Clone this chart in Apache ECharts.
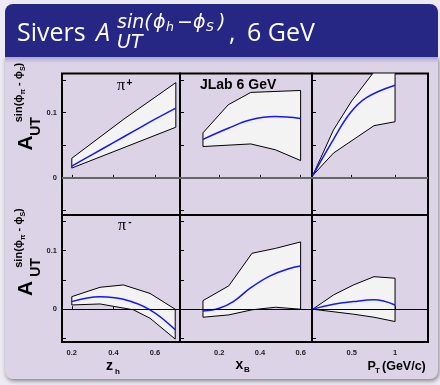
<!DOCTYPE html>
<html><head><meta charset="utf-8">
<script src="https://cdn.jsdelivr.net/npm/echarts@6/dist/echarts.min.js"></script>
<style>html,body{margin:0;padding:0;background:#eeeaf4;}#c{width:440px;height:385px;}</style>
</head><body><div id="c"></div>
<script>
// ---------- data ----------
// pi+ vs z_h
const piPlusZUpper  = [[0.2,0.030],[0.45,0.090],[0.70,0.146]];
const piPlusZLower  = [[0.2,0.015],[0.70,0.0776]];
const piPlusZCenter = [[0.2,0.018],[0.3,0.036],[0.4,0.054],[0.5,0.072],[0.6,0.090],[0.7,0.107]];
// pi+ vs x_B
const piPlusXUpper  = [[0.12,0.069],[0.244,0.112],[0.355,0.131],[0.6,0.134]];
const piPlusXLower  = [[0.12,0.048],[0.355,0.052],[0.476,0.043],[0.6,0.0265]];
const piPlusXCenter = [[0.12,0.059],[0.244,0.076],[0.355,0.089],[0.476,0.094],[0.6,0.091]];
// pi+ vs P_T
const piPlusPUpper  = [[0.05,0.0035],[0.29,0.0735],[0.5,0.118],[0.742,0.16],[1.0,0.19]];
const piPlusPLower  = [[0.05,0.0035],[0.29,0.038],[0.757,0.080],[1.0,0.086]];
const piPlusPCenter = [[0.05,0.0035],[0.29,0.059],[0.48,0.099],[0.67,0.123],[1.0,0.142]];
// pi- vs z_h
const piMinusZUpper  = [[0.2,0.0215],[0.336,0.0375],[0.448,0.0415],[0.576,0.027],[0.697,0.0]];
const piMinusZLower  = [[0.2,0.0073],[0.336,0.009],[0.496,-0.001],[0.576,-0.0154],[0.697,-0.051]];
const piMinusZCenter = [[0.2,0.013],[0.336,0.0215],[0.448,0.017],[0.576,-0.001],[0.697,-0.035]];
// pi- vs x_B
const piMinusXUpper  = [[0.12,0.0147],[0.247,0.040],[0.361,0.0956],[0.477,0.104],[0.6,0.115]];
const piMinusXLower  = [[0.12,-0.0137],[0.247,-0.0097],[0.361,-0.001],[0.477,0.0034],[0.6,0.0]];
const piMinusXCenter = [[0.12,-0.003],[0.2,0.0017],[0.269,0.013],[0.352,0.036],[0.45,0.057],[0.55,0.070],[0.6,0.074]];
// pi- vs P_T
const piMinusPUpper  = [[0.05,0.0],[0.29,0.0244],[0.52,0.0415],[0.757,0.0556],[1.0,0.053]];
const piMinusPLower  = [[0.05,0.0],[0.52,-0.0085],[0.757,-0.0137],[1.0,-0.021]];
const piMinusPCenter = [[0.05,0.0],[0.29,0.0085],[0.52,0.013],[0.757,0.016],[1.0,0.0073]];

// axes / ticks
const xRanges = [[0.153,0.72],[0.007,0.656],[0.042,1.38]];
const yRanges = [[-0.057,0.16],[-0.056,0.161]];
const xTickValues = [[0.2,0.4,0.6],[0.2,0.4,0.6],[0.5,1]];
const yTickValues = [-0.05,0,0.05,0.1,0.15];
const yLabelValues = [0,0.1];

// ---------- layout ----------
const colLeft = [62,180,312], colWidth = [118,132,116];
const rowTop = [73.5,215], rowHeight = [141.5,127];

const panels = [
  [piPlusZUpper,piPlusZLower,piPlusZCenter],
  [piPlusXUpper,piPlusXLower,piPlusXCenter],
  [piPlusPUpper,piPlusPLower,piPlusPCenter],
  [piMinusZUpper,piMinusZLower,piMinusZCenter],
  [piMinusXUpper,piMinusXLower,piMinusXCenter],
  [piMinusPUpper,piMinusPLower,piMinusPCenter]
];

const grids=[], xAxes=[], yAxes=[], series=[];
const tickFont = {fontSize:7.5, fontWeight:'bold', color:'#222', fontFamily:'Liberation Sans'};
for (let r=0;r<2;r++) for (let c=0;c<3;c++) {
  const i=r*3+c;
  grids.push({left:colLeft[c], top:rowTop[r], width:colWidth[c], height:rowHeight[r],
    show:true, borderColor:'#000', borderWidth:2, backgroundColor:'transparent'});
  xAxes.push({type:'value', gridIndex:i, min:xRanges[c][0], max:xRanges[c][1],
    axisLine:{show:false}, splitLine:{show:false},
    axisTick:{show:true, inside:true, length:3, customValues:xTickValues[c], lineStyle:{color:'#000',width:1}},
    axisLabel:Object.assign({show:r===1, customValues:xTickValues[c], margin:7, formatter:v=>String(v)}, tickFont)});
  yAxes.push({type:'value', gridIndex:i, min:yRanges[r][0], max:yRanges[r][1],
    axisLine:{show:false}, splitLine:{show:false},
    axisTick:{show:true, inside:true, length:4, customValues:yTickValues, lineStyle:{color:'#000',width:1}},
    axisLabel:Object.assign({show:c===0, customValues:yLabelValues, margin:5, formatter:v=>String(v)}, tickFont)});
  const [up,lo,ce]=panels[i];
  series.push({type:'custom', xAxisIndex:i, yAxisIndex:i, clip:true, z:2, silent:true,
    data:[up[0]],
    renderItem:(params,api)=>{
      const pts = up.map(p=>api.coord(p)).concat(lo.slice().reverse().map(p=>api.coord(p)));
      return {type:'polygon', shape:{points:pts}, style:{fill:'#f3f3f3', stroke:'#000', lineWidth:1}};
    }});
  series.push({type:'line', xAxisIndex:i, yAxisIndex:i, z:3, data:ce, smooth:0.4, showSymbol:false, silent:true,
    lineStyle:{color:'#1515ff', width:1.5},
    markLine:{silent:true, symbol:'none', label:{show:false}, animation:false,
      lineStyle:{color: r===0?'#666':'#000', width: r===0?2:1, type:'solid'}, data:[{yAxis:0}]}});
}

const white='#ffffff';
function t(x,y,text,font,extra){ return Object.assign({type:'text', x:x, y:y,
  style:Object.assign({text:text, font:font, fill:white, textVerticalAlign:'middle'}, extra||{})}); }
const supF='oblique 19px "DejaVu Sans"', subF='oblique 12.5px "DejaVu Sans"';
const graphics = [
  {type:'rect', z:-10, shape:{x:5,y:57,width:433,height:322,r:[0,0,8,8]},
   style:{fill:'#dcd3e7', shadowBlur:4, shadowColor:'rgba(0,0,0,0.45)', shadowOffsetX:1, shadowOffsetY:2}},
  {type:'rect', z:-9, shape:{x:5,y:57,width:433,height:6},
   style:{fill:new echarts.graphic.LinearGradient(0,0,0,1,[{offset:0,color:'#aaa4cf'},{offset:1,color:'#dcd3e7'}])}},
  {type:'rect', z:-8, shape:{x:5,y:4,width:433,height:53,r:[8,8,0,0]}, style:{fill:'#262685'}},
  // title
  t(17,34,'Sivers','25px "Open Sans"'),
  t(96,34,'A','italic 25px "Open Sans"'),
  t(117,23,'sin(',supF),
  t(153,23,'ϕ',supF),
  t(166,28,'h',subF),
  t(177,23,'−',supF),
  t(193,23,'ϕ',supF),
  t(206,28,'S',subF),
  t(218,23,')',supF),
  t(117,43,'UT','oblique 19px "DejaVu Sans"'),
  t(229,34,',','25px "Open Sans"'),
  t(247,34,'6 GeV','25px "Open Sans"'),
  // panel labels
  {type:'text', x:121, y:86, style:{text:'π', font:'16px "Liberation Serif"', fill:'#000', textAlign:'center', textVerticalAlign:'middle'}},
  {type:'text', x:129.5, y:83, style:{text:'+', font:'bold 10px "Liberation Sans"', fill:'#000', textAlign:'center', textVerticalAlign:'middle'}},
  {type:'text', x:122, y:226, style:{text:'π', font:'16px "Liberation Serif"', fill:'#000', textAlign:'center', textVerticalAlign:'middle'}},
  {type:'text', x:130, y:222, style:{text:'-', font:'bold 10px "Liberation Sans"', fill:'#000', textAlign:'center', textVerticalAlign:'middle'}},
  {type:'text', x:200, y:85, style:{text:'JLab 6 GeV', font:'bold 14px "Liberation Sans"', fill:'#000', textVerticalAlign:'middle'}},
  // x titles
  {type:'text', x:106, y:366.5, style:{text:'z', font:'bold 14px "Liberation Sans"', fill:'#000', textVerticalAlign:'middle'}},
  {type:'text', x:115, y:371.5, style:{text:'h', font:'bold 8px "Liberation Sans"', fill:'#000', textVerticalAlign:'middle'}},
  {type:'text', x:235.5, y:365.5, style:{text:'x', font:'bold 14px "Liberation Sans"', fill:'#000', textVerticalAlign:'middle'}},
  {type:'text', x:244, y:370, style:{text:'B', font:'bold 8px "Liberation Sans"', fill:'#000', textVerticalAlign:'middle'}},
  {type:'text', x:367.5, y:366.5, style:{text:'P', font:'bold 12.5px "Liberation Sans"', fill:'#000', textVerticalAlign:'middle'}},
  {type:'text', x:375, y:370.5, style:{text:'T', font:'bold 8px "Liberation Sans"', fill:'#000', textVerticalAlign:'middle'}},
  {type:'text', x:382, y:366.5, style:{text:'(GeV/c)', font:'bold 12.5px "Liberation Sans"', fill:'#000', textVerticalAlign:'middle'}}
];
// rotated y titles
function yTitle(yA, yUT, ySup) {
  const rot = Math.PI/2;
  graphics.push({type:'text', x:26, y:yA, rotation:rot, style:{text:'A', font:'bold 21px "Liberation Sans"', fill:'#000', textAlign:'center', textVerticalAlign:'middle'}});
  graphics.push({type:'text', x:36, y:yUT, rotation:rot, style:{text:'UT', font:'bold 14px "Liberation Sans"', fill:'#000', textAlign:'center', textVerticalAlign:'middle'}});
  graphics.push({type:'text', x:19, y:ySup, rotation:rot, style:{text:'{a|sin(ϕ}{b|π}{a| - ϕ}{b|S}{a|)}', textAlign:'center', textVerticalAlign:'middle',
    rich:{a:{font:'bold 11px "Liberation Sans"', fill:'#000', lineHeight:15, verticalAlign:'middle'},
          b:{font:'bold 7px "Liberation Sans"', fill:'#000', lineHeight:15, verticalAlign:'bottom'}}}});
}
yTitle(143, 126.5, 92.5);
yTitle(288.5, 267.5, 238);

const chart = echarts.init(document.getElementById('c'), null, {width:440, height:385});
chart.setOption({
  animation:false,
  backgroundColor:'#eeeaf4',
  grid:grids, xAxis:xAxes, yAxis:yAxes, series:series, graphic:graphics
});
</script></body></html>
